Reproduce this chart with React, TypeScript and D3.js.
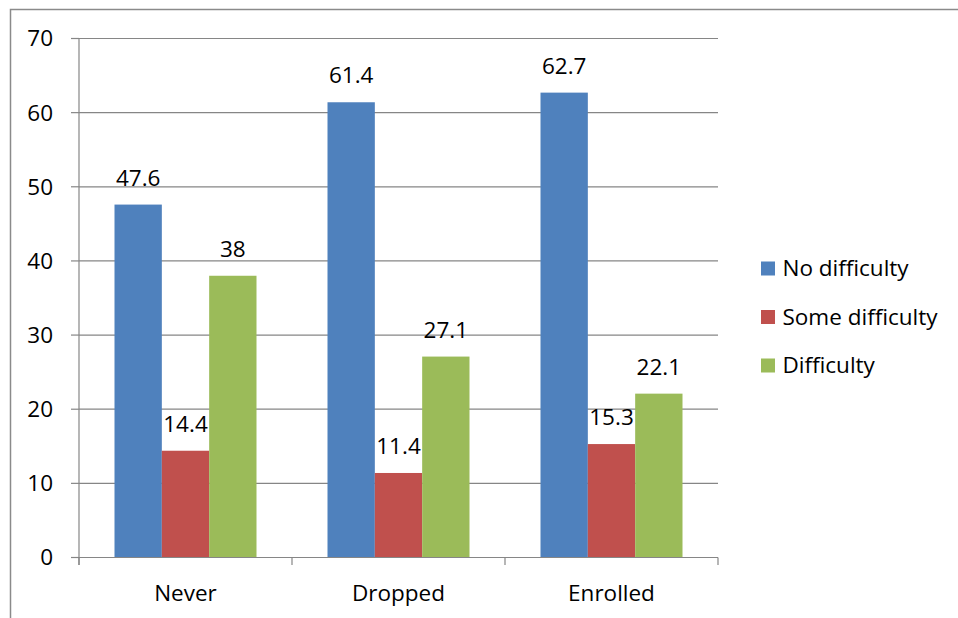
import * as d3 from 'd3';

const categories = ['Never', 'Dropped', 'Enrolled'];
const seriesNames = ['No difficulty', 'Some difficulty', 'Difficulty'];
const noDifficulty = [47.6, 61.4, 62.7];
const someDifficulty = [14.4, 11.4, 15.3];
const difficulty = [38, 27.1, 22.1];
const yTicks = [0, 10, 20, 30, 40, 50, 60, 70];

const COLORS = ['#4F81BD', '#C0504D', '#9BBB59'];
const FONT = '"Open Sans", "Noto Sans", sans-serif';
const FS = 22.5;

export default function App() {
    const width = 958,
        height = 618;
    const plot = { left: 79, right: 718, top: 38.5, bottom: 557.5 };

    const series = [noDifficulty, someDifficulty, difficulty];

    const xScale = d3
        .scaleBand()
        .domain(categories)
        .range([plot.left, plot.right]);
    const yScale = d3.scaleLinear().domain([0, 70]).range([plot.bottom, plot.top]);

    const barW = xScale.bandwidth() / 4.5;
    const offset = (xScale.bandwidth() - barW * 3) / 2;

    return (
        <svg
            width={width}
            height={height}
            style={{ position: 'absolute', left: 0, top: 0 }}
            fontFamily={FONT}
        >
            <rect x={0} y={0} width={width} height={height} fill="#fff" />
            {/* frame */}
            <path d={`M10.5,${height} V9.5 H${width}`} fill="none" stroke="#8a8a8a" strokeWidth={1.5} />

            {/* gridlines and y axis */}
            {yTicks.map((t) => (
                <g key={t}>
                    {t > 0 && (
                        <line
                            x1={plot.left}
                            x2={plot.right}
                            y1={yScale(t)}
                            y2={yScale(t)}
                            stroke="#868686"
                            strokeWidth={1.2}
                        />
                    )}
                    <line x1={71} x2={plot.left} y1={yScale(t)} y2={yScale(t)} stroke="#868686" strokeWidth={1.2} />
                    <text x={53} y={yScale(t)} dy="0.35em" textAnchor="end" fontSize={FS} fill="#000">
                        {t}
                    </text>
                </g>
            ))}

            {/* bars */}
            {categories.map((c, i) => (
                <g key={c}>
                    {series.map((vals, s) => {
                        const x = (xScale(c) ?? 0) + offset + s * barW;
                        const y = yScale(vals[i]);
                        return (
                            <g key={s}>
                                <rect x={x} y={y} width={barW} height={plot.bottom - y} fill={COLORS[s]} />
                                <text
                                    x={x + barW / 2}
                                    y={y - 19}
                                    textAnchor="middle"
                                    fontSize={FS}
                                    fill="#000"
                                >
                                    {vals[i]}
                                </text>
                            </g>
                        );
                    })}
                    <text
                        x={(xScale(c) ?? 0) + xScale.bandwidth() / 2}
                        y={593}
                        dy="0.35em"
                        textAnchor="middle"
                        fontSize={FS}
                        fill="#000"
                    >
                        {c}
                    </text>
                </g>
            ))}

            {/* axes lines */}
            <line x1={plot.left} x2={plot.left} y1={plot.top} y2={565} stroke="#868686" strokeWidth={1.2} />
            <line x1={plot.left} x2={plot.right} y1={plot.bottom} y2={plot.bottom} stroke="#868686" strokeWidth={1.2} />
            {[...categories.map((c) => xScale(c) ?? 0), plot.right].map((x, i) => (
                <line key={i} x1={x} x2={x} y1={plot.bottom} y2={565} stroke="#868686" strokeWidth={1.2} />
            ))}

            {/* legend */}
            {seriesNames.map((n, i) => (
                <g key={n} transform={`translate(761,${268.5 + i * 48.5})`}>
                    <rect x={0} y={-7} width={14} height={14} fill={COLORS[i]} />
                    <text x={21.5} y={0} dy="0.35em" fontSize={FS} fill="#000">
                        {n}
                    </text>
                </g>
            ))}
        </svg>
    );
}
